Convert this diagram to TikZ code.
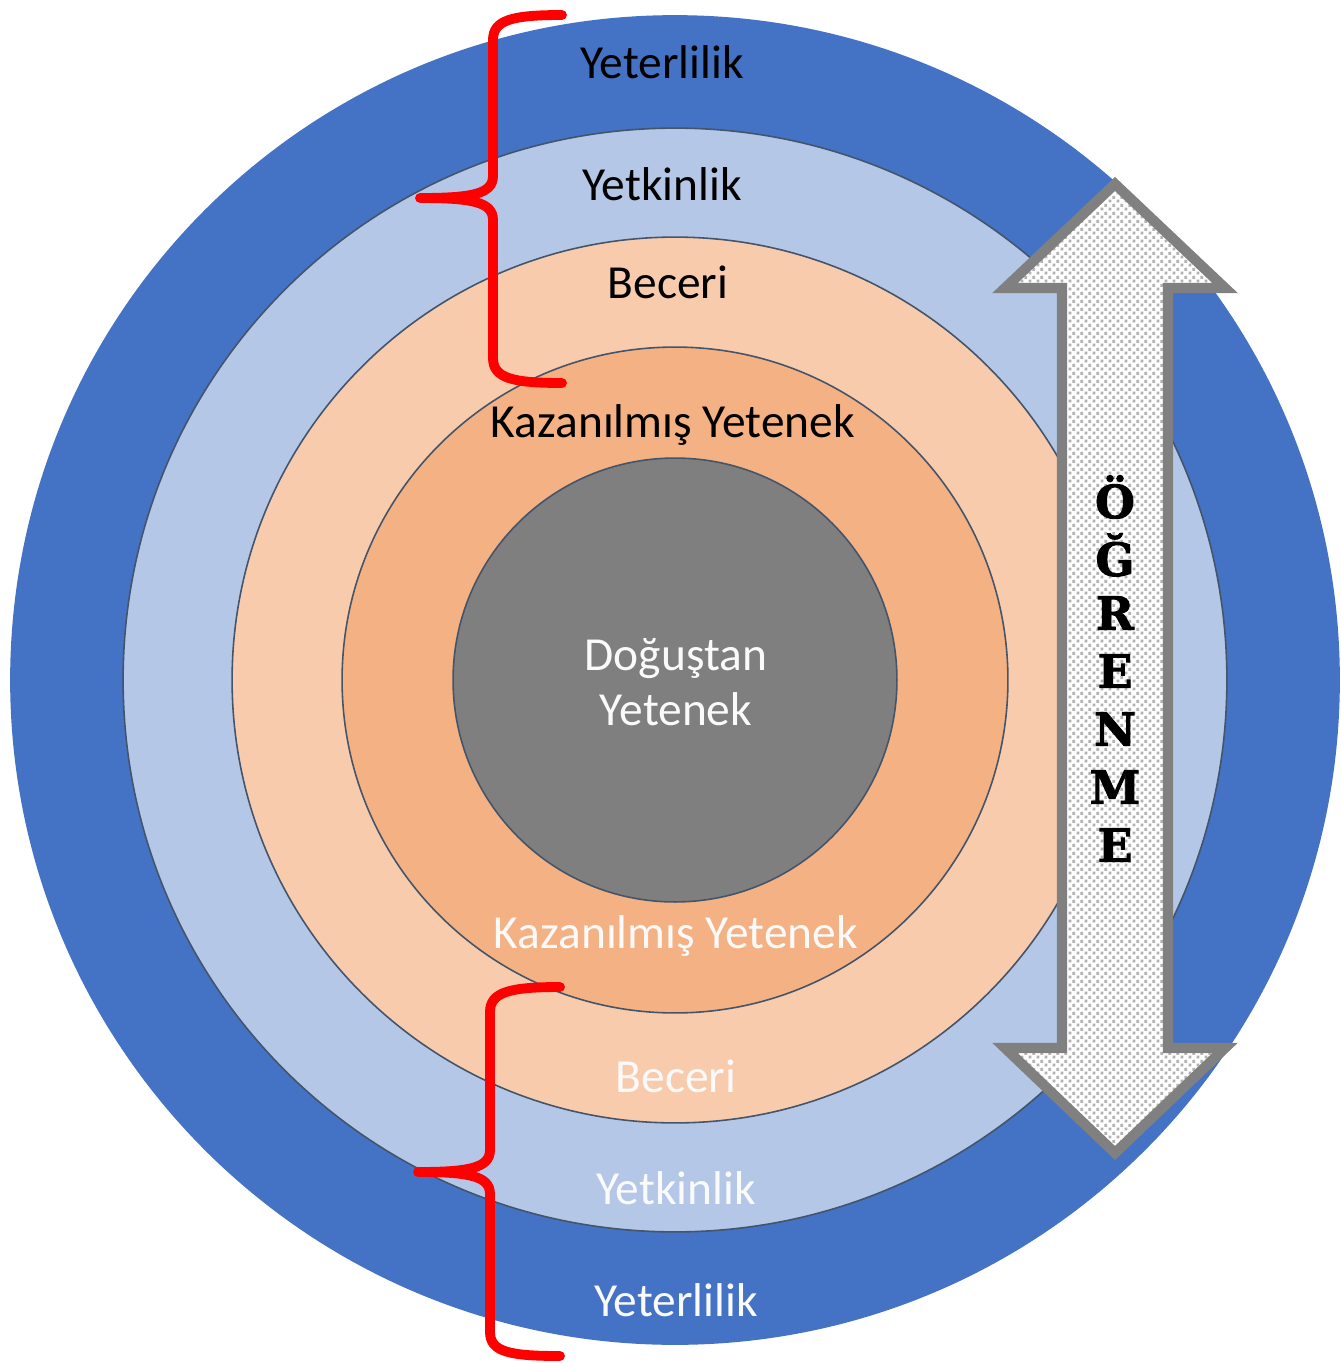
\documentclass[tikz,border=0pt]{standalone}
\usepackage{fontspec}
\setmainfont{Carlito}
\newfontfamily\ogfont{DejaVu Serif Bold}[FakeBold=2]
\usetikzlibrary{patterns.meta}
\definecolor{cDark}{HTML}{4472C4}
\definecolor{cLight}{HTML}{B4C7E7}
\definecolor{cPeach}{HTML}{F8CBAD}
\definecolor{cOrange}{HTML}{F4B183}
\definecolor{cGray}{HTML}{7F7F7F}
\definecolor{cEdge}{HTML}{44546A}
\definecolor{cArrow}{HTML}{808080}
\definecolor{cRed}{HTML}{FF0000}
\tikzdeclarepattern{
  name=bigdots,
  type=uncolored,
  bounding box={(0pt,0pt) and (4.4pt,4.4pt)},
  tile size={(4.4pt,4.4pt)},
  code={
    \pgfpathrectangle{\pgfpoint{0.3pt}{0.3pt}}{\pgfpoint{1.7pt}{1.7pt}}
    \pgfpathrectangle{\pgfpoint{2.5pt}{2.5pt}}{\pgfpoint{1.7pt}{1.7pt}}
    \pgfusepath{fill}
  }
}
\tikzset{
  ring/.style={draw=cEdge, line width=0.9pt},
  lbl/.style={font=\fontsize{27}{31.5}\selectfont, inner sep=0pt, align=center},
  blk/.style={lbl, text=black},
  wht/.style={lbl, text=white!96!gray},
  brace/.style={draw=cRed, line width=5.6pt, line cap=round, line join=round},
  arrowshape/.style={draw=cArrow, line width=5.8pt, line join=miter, miter limit=10},
  oglet/.style={font=\ogfont\fontsize{26}{27}\selectfont, inner sep=0pt, text=black}
}
\begin{document}
\begin{tikzpicture}[x=0.02cm, y=-0.02cm]
\useasboundingbox (0,0) rectangle (1340,1363);
\fill[white] (0,0) rectangle (1340,1363);
% rings
\coordinate (ctr) at (675,680);
\fill[cDark] (ctr) circle[radius=13.3cm];
\filldraw[ring, fill=cLight] (ctr) circle[radius=11.04cm];
\filldraw[ring, fill=cPeach] (ctr) circle[radius=8.86cm];
\filldraw[ring, fill=cOrange] (ctr) circle[radius=6.66cm];
\filldraw[ring, fill=cGray] (ctr) circle[radius=4.44cm];
% labels
\node[blk] (yetT) at (662,62) {Yeterlilik};
\node[blk] (ykT) at (662,184) {Yetkinlik};
\node[blk] (becT) at (668,282) {Beceri};
\node[blk] (kazT) at (673,425) {Kazanılmış Yetenek};
\node[wht] (dog) at (676,682) {Doğuştan\\Yetenek};
\node[wht] (kazB) at (676,936) {Kazanılmış Yetenek};
\node[wht] (becB) at (676,1076) {Beceri};
\node[wht] (ykB) at (676,1188) {Yetkinlik};
\node[wht] (yetB) at (676,1300) {Yeterlilik};
% double arrow
\path[fill=white] (1115,184) -- (1225,288) -- (1168,288) -- (1168,1048) -- (1225,1048) -- (1115,1153) -- (1005,1048) -- (1062,1048) -- (1062,288) -- (1005,288) -- cycle;
\path[pattern={bigdots}, pattern color=gray!60] (1115,184) -- (1225,288) -- (1168,288) -- (1168,1048) -- (1225,1048) -- (1115,1153) -- (1005,1048) -- (1062,1048) -- (1062,288) -- (1005,288) -- cycle;
\draw[arrowshape] (1115,184) -- (1225,288) -- (1168,288) -- (1168,1048) -- (1225,1048) -- (1115,1153) -- (1005,1048) -- (1062,1048) -- (1062,288) -- (1005,288) -- cycle;
\node[oglet] (l1) at (1115,497) {Ö};
\node[oglet] (l2) at (1115,555) {Ğ};
\node[oglet] (l3) at (1115,613) {R};
\node[oglet] (l4) at (1115,671) {E};
\node[oglet] (l5) at (1115,729) {N};
\node[oglet] (l6) at (1115,787) {M};
\node[oglet] (l7) at (1115,845) {E};
% braces
\draw[brace] (562,15) .. controls (512,15) and (493,20) .. (493,40) -- (493,176) .. controls (493,194) and (472,198) .. (420,198) .. controls (472,198) and (493,202) .. (493,220) -- (493,358) .. controls (493,378) and (512,383) .. (562,383);
\draw[brace] (560,987) .. controls (510,987) and (490,992) .. (490,1012) -- (490,1150) .. controls (490,1168) and (469,1172) .. (418,1172) .. controls (469,1172) and (490,1176) .. (490,1194) -- (490,1332) .. controls (490,1352) and (510,1356) .. (560,1356);
\end{tikzpicture}
\end{document}
